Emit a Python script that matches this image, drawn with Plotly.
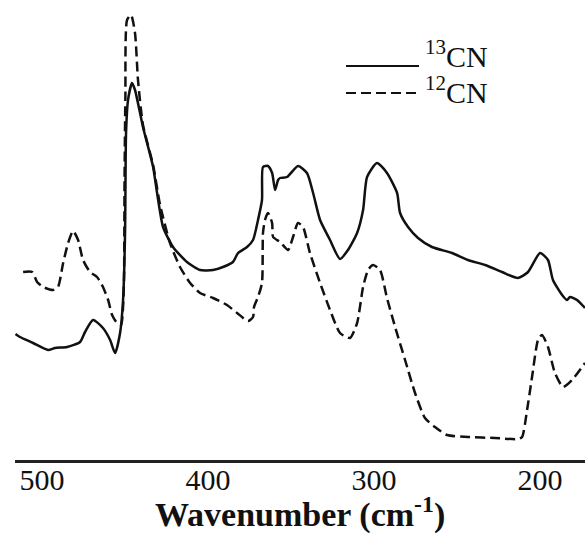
import plotly.graph_objects as go

# Raman spectra of the cyanide complex: 13CN and 12CN isotopologues
# wavenumber (cm-1) and relative intensity (a.u.)
wn_13cn = [516.0, 513.3, 505.4, 496.4, 492.2, 484.9, 477.1, 474.1, 469.3, 463.3,
           459.0, 456.0, 453.0, 451.2, 450.0, 449.4, 448.2, 445.8, 444.0, 439.2,
           433.1, 430.7, 427.1, 421.1, 412.7, 404.8, 397.0, 391.0, 385.0, 381.9,
           376.5, 372.9, 369.9, 367.5, 366.9, 363.9, 361.4, 359.6, 357.8, 356.6,
           352.4, 345.8, 340.4, 336.7, 332.5, 326.5, 320.5, 315.7, 310.2, 306.6,
           304.2, 298.2, 292.2, 286.1, 284.3, 279.5, 273.5, 265.1, 253.0, 243.4,
           233.1, 222.9, 213.3, 207.2, 200.0, 195.2, 192.2, 186.7, 183.7, 181.9,
           177.7, 172.9]
int_13cn = [1.26, 1.23, 1.17, 1.10, 1.12, 1.13, 1.18, 1.28, 1.40, 1.32,
            1.20, 1.07, 1.27, 1.60, 2.27, 3.27, 3.60, 3.77, 3.70, 3.33,
            2.93, 2.67, 2.33, 2.13, 1.98, 1.90, 1.90, 1.93, 1.98, 2.07,
            2.13, 2.20, 2.40, 2.60, 2.93, 2.94, 2.87, 2.70, 2.80, 2.82,
            2.83, 2.94, 2.87, 2.67, 2.40, 2.20, 2.01, 2.10, 2.27, 2.50,
            2.83, 2.97, 2.87, 2.67, 2.47, 2.33, 2.22, 2.13, 2.07, 2.00,
            1.95, 1.88, 1.82, 1.88, 2.07, 2.00, 1.80, 1.65, 1.60, 1.63,
            1.60, 1.52]

wn_12cn = [511.4, 506.0, 503.0, 499.4, 493.4, 490.4, 487.3, 484.3, 481.3, 478.3,
           475.3, 471.1, 466.9, 463.3, 460.2, 457.8, 454.8, 452.4, 451.2, 450.6,
           450.3, 449.8, 448.8, 446.4, 444.0, 442.2, 439.2, 433.1, 428.9, 422.9,
           416.9, 410.8, 404.8, 397.0, 388.6, 382.5, 375.9, 372.9, 372.3, 369.9,
           367.5, 366.9, 365.7, 363.9, 361.4, 360.8, 356.6, 351.8, 348.8, 345.8,
           342.8, 338.6, 332.5, 326.5, 320.5, 314.5, 310.2, 306.6, 303.6, 300.6,
           296.4, 292.2, 287.3, 281.3, 275.3, 269.3, 263.3, 256.0, 243.4, 227.1,
           213.3, 210.8, 207.8, 204.8, 201.2, 198.8, 195.2, 191.0, 186.1, 180.7,
           172.9]
int_12cn = [1.88, 1.88, 1.78, 1.73, 1.70, 1.73, 1.97, 2.17, 2.29, 2.20,
            2.00, 1.88, 1.83, 1.73, 1.60, 1.45, 1.37, 1.35, 1.53, 1.83,
            2.80, 3.63, 4.40, 4.45, 4.27, 3.80, 3.35, 2.95, 2.55, 2.17,
            1.93, 1.77, 1.67, 1.62, 1.55, 1.47, 1.39, 1.43, 1.53, 1.63,
            1.77, 2.27, 2.40, 2.47, 2.37, 2.23, 2.18, 2.10, 2.23, 2.37,
            2.33, 2.07, 1.77, 1.50, 1.27, 1.22, 1.37, 1.73, 1.90, 1.95,
            1.90, 1.62, 1.33, 1.00, 0.67, 0.42, 0.33, 0.25, 0.23, 0.22,
            0.21, 0.23, 0.50, 0.83, 1.20, 1.25, 1.13, 0.87, 0.73, 0.80,
            0.97]

tick_values = [500, 400, 300, 200]
series_labels = ["<sup>13</sup>CN", "<sup>12</sup>CN"]
x_title = "<b>Wavenumber (cm<sup>-1</sup>)</b>"

SERIF = "Liberation Serif, Times New Roman, serif"
INK = "#111111"
DASH = "10px,5px"

fig = go.Figure()
fig.add_trace(go.Scatter(x=wn_13cn, y=int_13cn, mode="lines",
                         line=dict(color=INK, width=2.5, shape="spline", smoothing=0.6),
                         name="13CN", showlegend=False))
fig.add_trace(go.Scatter(x=wn_12cn, y=int_12cn, mode="lines",
                         line=dict(color=INK, width=2.5, dash=DASH, shape="spline", smoothing=0.6),
                         name="12CN", showlegend=False))

# plot area in pixels: x 15..585, y 0..460
W, H = 585, 537
L, R, T, B = 15, 0, 0, 77
pw, ph = W - L - R, H - T - B


def px(x):
    return (x - L) / pw


def py(y):
    return (H - B - y) / ph


# legend drawn as line samples plus labels (line y, text baseline y, dash)
legend_rows = [(66, 67, None), (93, 103, DASH)]
for (yl, yb, dash), label in zip(legend_rows, series_labels):
    fig.add_shape(type="line", xref="paper", yref="paper",
                  x0=px(346), x1=px(419), y0=py(yl), y1=py(yl),
                  line=dict(color=INK, width=2, dash=dash))
    fig.add_annotation(xref="paper", yref="paper", x=px(423), y=py(yb + 8),
                       text=label, showarrow=False, xanchor="left", yanchor="bottom",
                       font=dict(family=SERIF, size=30, color=INK))

# axis title placed under the tick labels
fig.add_annotation(xref="paper", yref="paper", x=0.5, y=py(536),
                   text=x_title, showarrow=False, xanchor="center", yanchor="bottom",
                   font=dict(family=SERIF, size=34, color=INK))

fig.update_layout(
    width=W, height=H,
    margin=dict(l=L, r=R, t=T, b=B, pad=0),
    paper_bgcolor="white", plot_bgcolor="white",
    xaxis=dict(range=[516.3, 172.9], tickvals=tick_values,
               ticks="", ticklabelstandoff=-9,
               showline=True, linewidth=3, linecolor="#222222",
               showgrid=False, zeroline=False,
               tickfont=dict(family=SERIF, size=30, color=INK)),
    yaxis=dict(range=[0, 4.6], visible=False),
)

fig.write_html("out.html")
